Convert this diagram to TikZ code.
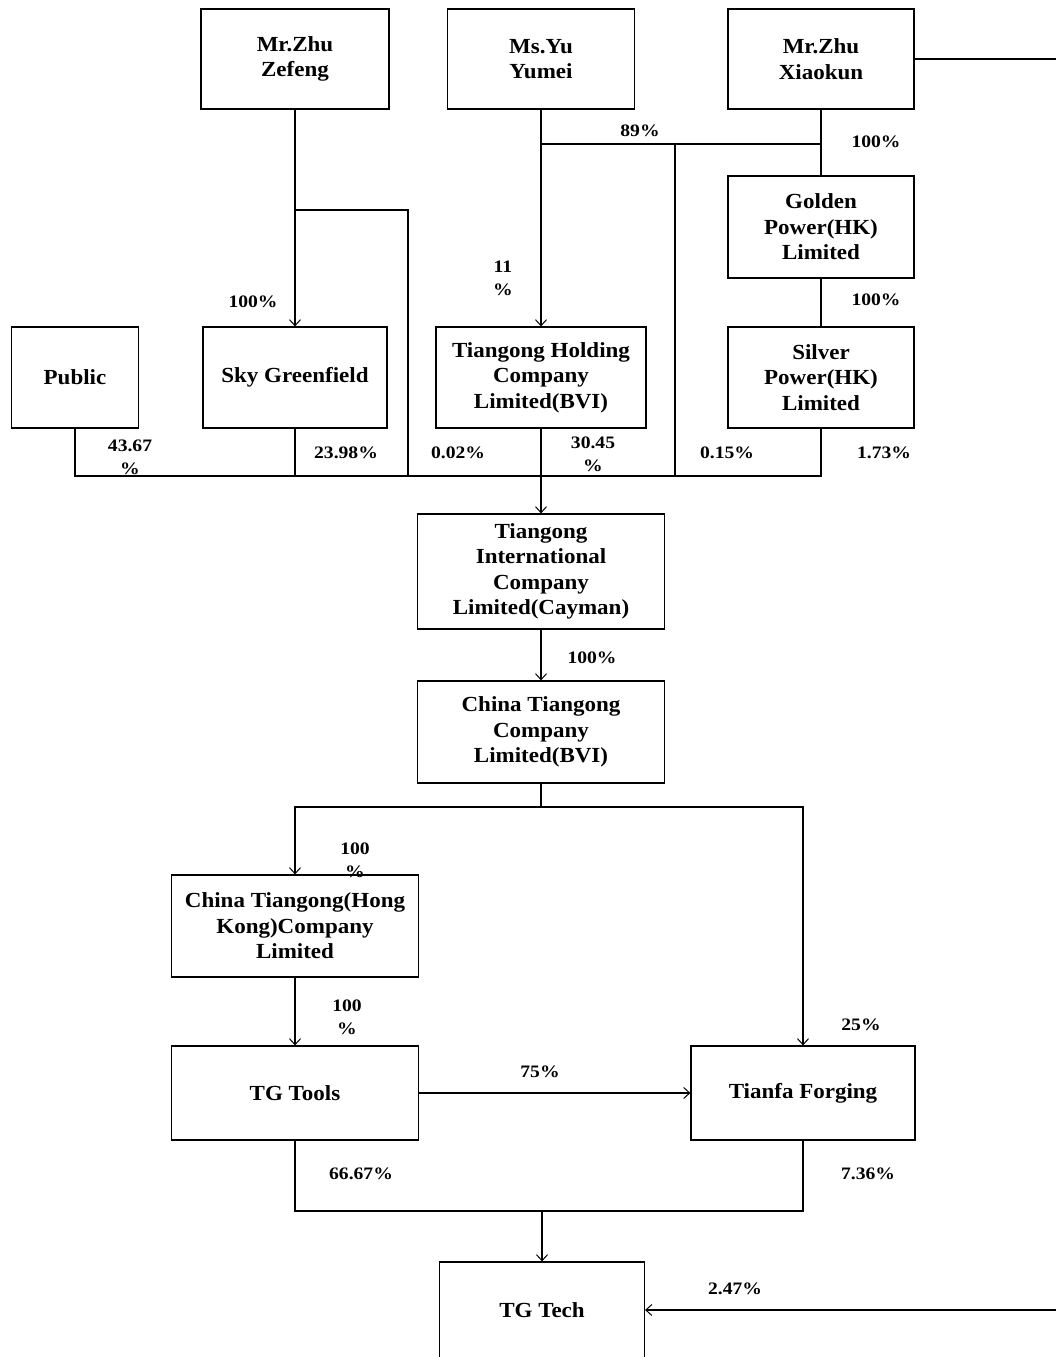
\documentclass[tikz,border=0pt]{standalone}
\usepackage{fontspec}
\setmainfont{Liberation Serif}
\newfontfamily\boxfont[FakeStretch=1.07]{Liberation Serif}
\newfontfamily\pctfont[FakeStretch=1.12]{Liberation Serif}
\usetikzlibrary{arrows.meta}
\begin{document}
\begin{tikzpicture}[x=1pt,y=-1pt,
  box/.style={draw,line width=1.2pt,inner sep=0pt,align=center,
    font=\boxfont\bfseries\fontsize{21.5}{25.5}\selectfont},
  pct/.style={inner sep=0pt,align=center,font=\pctfont\bfseries\fontsize{17.5}{23}\selectfont},
  ln/.style={line width=1.3pt},
  arr/.style={ln,-{Straight Barb[length=6pt,width=11pt,line width=1pt]}}]
\useasboundingbox (0,0) rectangle (1056,1357);
\clip (0,0) rectangle (1056,1357);
% boxes
\node[box,minimum width=188pt,minimum height=100pt] (zefeng) at (295,59) {Mr.Zhu\\Zefeng};
\node[box,minimum width=187pt,minimum height=100pt] (yumei) at (541,59) {Ms.Yu\\Yumei};
\node[box,minimum width=186pt,minimum height=100pt] (xiaokun) at (821,59) {Mr.Zhu\\Xiaokun};
\node[box,minimum width=186pt,minimum height=102pt] (golden) at (821,227) {Golden\\Power(HK)\\Limited};
\node[box,minimum width=186pt,minimum height=101pt] (silver) at (821,377.5) {Silver\\Power(HK)\\Limited};
\node[box,minimum width=210pt,minimum height=101pt] (holding) at (541,377.5) {Tiangong Holding\\Company\\Limited(BVI)};
\node[box,minimum width=184pt,minimum height=101pt] (sky) at (295,377.5) {Sky Greenfield};
\node[box,minimum width=127pt,minimum height=101pt] (public) at (75,377.5) {Public};
\node[box,minimum width=247pt,minimum height=115pt] (cayman) at (541,571.5) {Tiangong\\International\\Company\\Limited(Cayman)};
\node[box,minimum width=247pt,minimum height=102pt] (bvi) at (541,732) {China Tiangong\\Company\\Limited(BVI)};
\node[box,minimum width=247pt,minimum height=102pt] (hk) at (295,926) {China Tiangong(Hong\\Kong)Company\\Limited};
\node[box,minimum width=247pt,minimum height=94pt] (tools) at (295,1093) {TG Tools};
\node[box,minimum width=224pt,minimum height=94pt] (tianfa) at (803,1093) {Tianfa Forging};
\node[box,minimum width=205pt,minimum height=96pt] (tgtech) at (542,1310) {TG Tech};
% junctions
\coordinate (zj) at (295,210);
\coordinate (zb) at (408,210);
\coordinate (zbus) at (408,476);
\coordinate (busL) at (75,476);
\coordinate (yj) at (541,144);
\coordinate (yv) at (675,144);
\coordinate (yvb) at (675,476);
\coordinate (rt) at (1070,59);
\coordinate (rb) at (1070,1310);
\coordinate (bj) at (541,807);
\coordinate (tj) at (542,1211);
% connectors
\draw[arr] (zefeng.south) -- (sky.north);
\draw[ln] (zj) -- (zb) -- (zbus);
\draw[arr] (yumei.south) -- (holding.north);
\draw[ln] (yj) -- (xiaokun.south |- yj);
\draw[ln] (yv) -- (yvb);
\draw[ln] (xiaokun.south) -- (golden.north);
\draw[ln] (golden.south) -- (silver.north);
\draw[ln] (public.south) -- (busL) -| (silver.south);
\draw[ln] (sky.south) -- (sky.south |- busL);
\draw[arr] (holding.south) -- (cayman.north);
\draw[arr] (cayman.south) -- (bvi.north);
\draw[ln] (bvi.south) -- (bj);
\draw[arr] (bj) -| (hk.north);
\draw[arr] (bj) -| (tianfa.north);
\draw[arr] (hk.south) -- (tools.north);
\draw[arr] (tools.east) -- (tianfa.west);
\draw[ln] (tools.south) |- (tj) -| (tianfa.south);
\draw[arr] (tj) -- (tgtech.north);
\draw[arr] (xiaokun.east) -- (rt) -- (rb) -- (tgtech.east);
% labels
\node[pct] (l89) at (640,131) {89\%};
\node[pct] (l100a) at (876,142) {100\%};
\node[pct] (l100b) at (876,300) {100\%};
\node[pct] (l11) at (503,278) {11\\\%};
\node[pct] (l100c) at (253,302) {100\%};
\node[pct] (l4367) at (130,457) {43.67\\\%};
\node[pct] (l2398) at (346,453) {23.98\%};
\node[pct] (l002) at (458,453) {0.02\%};
\node[pct] (l3045) at (593,454) {30.45\\\%};
\node[pct] (l015) at (727,453) {0.15\%};
\node[pct] (l173) at (884,453) {1.73\%};
\node[pct] (l100d) at (592,658) {100\%};
\node[pct] (l100e) at (355,860) {100\\\%};
\node[pct] (l100f) at (347,1017) {100\\\%};
\node[pct] (l25) at (861,1025) {25\%};
\node[pct] (l75) at (540,1072) {75\%};
\node[pct] (l6667) at (361,1174) {66.67\%};
\node[pct] (l736) at (868,1174) {7.36\%};
\node[pct] (l247) at (735,1289) {2.47\%};
\end{tikzpicture}
\end{document}
